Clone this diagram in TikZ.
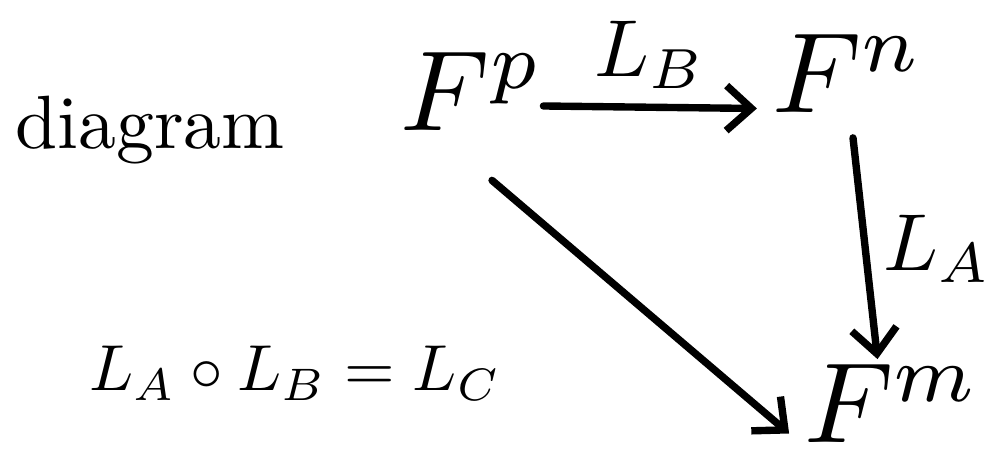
\documentclass[tikz,border=0pt]{standalone}
\usepackage{amsmath,amssymb}
\usepackage{tikz}
\usetikzlibrary{arrows.meta}

\newcommand{\spacetext}[1]{\scalebox{6.5}{$#1$}}
\newcommand{\maptext}[1]{\scalebox{4.6}{$#1$}}

\begin{document}
\begin{tikzpicture}[
      space/.style={inner sep=0pt},
      map/.style={inner sep=0pt},
      wire/.style={line width=4.2pt, line cap=round, -{Straight Barb[length=5mm, width=9mm, line width=4.2pt]}}
    ]
      \useasboundingbox (0,0) rectangle (20.1,9.42);

      \node[inner sep=0pt] (word) at (3.0,6.82) {\scalebox{4.3}{diagram}};
      \node[space] (Fp) at (9.44,7.6) {\spacetext{F^{p}}};
      \node[space] (Fn) at (16.96,7.95) {\spacetext{F^{n}}};
      \node[space] (Fm) at (17.85,1.35) {\spacetext{F^{m}}};
      \node[inner sep=0pt] (comp) at (5.9,1.95) {\scalebox{3.7}{$L_A \circ L_B = L_C$}};

      \draw[wire] ([yshift=-3mm]Fp.east) -- node[map, above=3mm] {\maptext{L_B}} ([xshift=-3mm, yshift=-7mm]Fn.west);
      \draw[wire] ([xshift=1mm, yshift=-5mm]Fn.south) -- node[map, right=3mm] {\maptext{L_A}} ([xshift=-3mm, yshift=1mm]Fm.north);
      \draw[wire] ([xshift=4mm, yshift=-10mm]Fp.south) -- ([xshift=-3mm, yshift=-6mm]Fm.west);
    \end{tikzpicture}
\end{document}
